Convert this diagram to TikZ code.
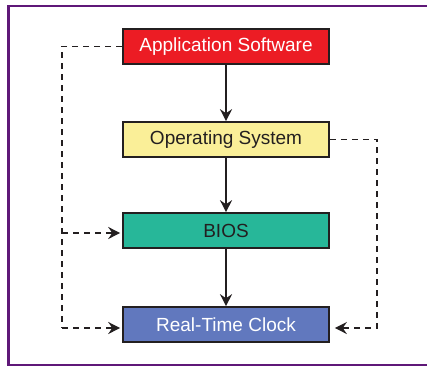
\documentclass[tikz,border=0pt]{standalone}
\usepackage{fontspec}
\setmainfont{Liberation Sans}
\usetikzlibrary{arrows.meta}
\definecolor{framepurple}{HTML}{5F1878}
\definecolor{appred}{HTML}{EC1C24}
\definecolor{osyellow}{HTML}{FAEF98}
\definecolor{biosteal}{HTML}{27B799}
\definecolor{rtcblue}{HTML}{6178BE}
\definecolor{inkdark}{HTML}{231F20}
\begin{document}
\begin{tikzpicture}[x=1pt,y=1pt,
  layer/.style={draw=inkdark,line width=1.6pt,minimum width=206pt,minimum height=35pt,
    inner sep=0pt,font=\fontsize{19}{22}\selectfont},
  flow/.style={draw=inkdark,line width=1.6pt,-{Stealth[length=12pt,width=12pt,inset=4pt]}},
  bypass/.style={draw=inkdark,line width=1.5pt,dash pattern=on 6pt off 5pt,-{Stealth[length=12pt,width=12pt,inset=4pt]}}]
  \useasboundingbox (0,0) rectangle (427,367);
  % outer frame, open on the right
  \draw[framepurple,line width=2.6pt] (428,361) -- (8.3,361) -- (8.3,2) -- (428,2);

  \node[layer,fill=appred,text=white]   (app)  at (226,320.5) {Application Software};
  \node[layer,fill=osyellow,text=inkdark] (os) at (226,227.5) {Operating System};
  \node[layer,fill=biosteal,text=inkdark] (bios) at (226,136.5) {BIOS};
  \node[layer,fill=rtcblue,text=white]  (rtc)  at (226,42.5) {Real-Time Clock};

  \draw[flow] (app) -- (os);
  \draw[flow] (os) -- (bios);
  \draw[flow] (bios) -- (rtc);

  % application software reaching down past the OS
  \coordinate (lt) at (62,320.5);
  \coordinate (lb) at (62,39);
  \coordinate (lm) at (62,134);
  \draw[bypass,-] (app.west) -- (lt) -- (lb);
  \draw[bypass] (lm) -- ([xshift=-2pt]lm -| bios.west);
  \draw[bypass] (lb) -- ([xshift=-2pt]lb -| rtc.west);

  % operating system reaching the clock directly
  \coordinate (rt) at (377,227.5);
  \coordinate (rb) at (377,39);
  \draw[bypass] (os.east) -- (rt) -- (rb) -- ([xshift=5pt]rb -| rtc.east);
\end{tikzpicture}
\end{document}
